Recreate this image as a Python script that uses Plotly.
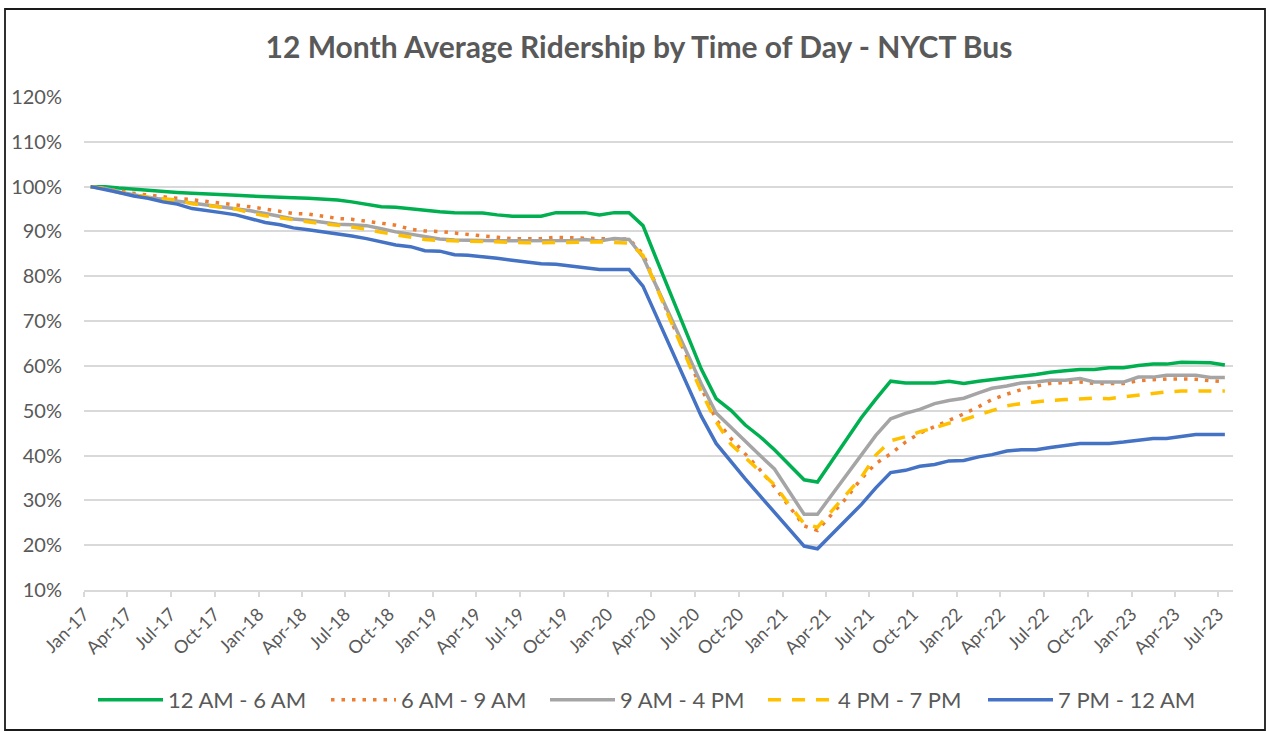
import pandas as pd
import plotly.graph_objects as go

# Monthly 12-month average ridership (% of Jan-17), Jan-17 .. Jul-23
start_month = "2017-01"
n_months = 79

am12_6 = [100.0, 100.0, 99.7, 99.4, 99.2, 99.0, 98.7, 98.5, 98.4, 98.3, 98.1, 97.9,
          97.7, 97.6, 97.5, 97.4, 97.2, 97.0, 96.6, 96.1, 95.5, 95.4, 95.0, 94.7,
          94.4, 94.2, 94.2, 94.1, 93.7, 93.4, 93.4, 93.4, 94.2, 94.2, 94.2, 93.7,
          94.2, 94.2, 91.3, 83.1, 75.1, 67.0, 59.3, 52.7, 50.1, 46.8, 44.2, 41.3,
          38.0, 34.6, 34.1, 39.0, 43.8, 48.5, 52.6, 56.6, 56.2, 56.2, 56.2, 56.6,
          56.1, 56.6, 57.0, 57.4, 57.7, 58.1, 58.6, 58.9, 59.2, 59.2, 59.6, 59.6,
          60.1, 60.4, 60.4, 60.8, 60.8, 60.7, 60.2]

am6_9 = [100.0, 99.6, 99.1, 98.5, 98.1, 97.8, 97.4, 97.1, 96.7, 96.4, 96.0, 95.5,
         95.0, 94.4, 94.0, 93.9, 93.5, 92.9, 92.7, 92.2, 91.8, 91.4, 90.5, 90.1,
         90.0, 89.6, 89.4, 89.0, 88.7, 88.4, 88.4, 88.4, 88.7, 88.6, 88.4, 88.4,
         88.4, 88.3, 85.0, 77.0, 69.5, 62.0, 55.0, 48.0, 43.8, 40.3, 36.8, 33.0,
         28.8, 24.3, 23.3, 26.9, 30.6, 34.9, 38.2, 40.4, 43.0, 45.0, 46.4, 47.7,
         49.3, 50.9, 52.5, 53.7, 54.7, 55.5, 56.1, 56.3, 56.4, 56.1, 56.1, 56.1,
         56.7, 57.0, 57.1, 57.1, 57.0, 56.7, 56.5]

am9_pm4 = [100.0, 99.6, 98.8, 98.2, 97.6, 97.2, 96.8, 96.3, 95.9, 95.5, 95.1, 94.6,
           94.0, 93.3, 92.8, 92.5, 92.0, 91.6, 91.5, 91.3, 90.6, 89.9, 89.4, 88.8,
           88.3, 88.1, 88.0, 87.9, 87.9, 87.9, 87.9, 87.9, 88.0, 88.0, 88.2, 87.9,
           88.4, 88.2, 84.3, 77.2, 70.2, 63.1, 56.0, 49.5, 46.3, 43.0, 40.0, 37.0,
           32.0, 26.9, 26.9, 31.3, 35.8, 40.2, 44.5, 48.2, 49.4, 50.3, 51.6, 52.3,
           52.8, 54.0, 55.0, 55.5, 56.2, 56.4, 56.8, 56.8, 57.2, 56.4, 56.4, 56.4,
           57.5, 57.5, 57.9, 57.9, 57.9, 57.4, 57.4]

pm4_7 = [100.0, 99.5, 98.7, 98.1, 97.7, 97.3, 97.0, 96.2, 95.7, 95.4, 95.0, 94.1,
         93.5, 93.0, 92.6, 92.2, 91.7, 91.4, 91.0, 90.5, 89.8, 89.3, 88.8, 88.2,
         88.0, 87.9, 87.8, 87.7, 87.6, 87.5, 87.5, 87.5, 87.5, 87.5, 87.6, 87.7,
         87.6, 87.4, 84.7, 76.8, 69.0, 61.5, 54.3, 47.5, 42.5, 39.5, 36.3, 33.5,
         29.0, 24.8, 24.0, 27.8, 31.5, 35.2, 40.1, 43.3, 44.2, 45.3, 46.2, 47.2,
         48.0, 49.1, 50.1, 51.1, 51.6, 52.0, 52.3, 52.5, 52.7, 52.8, 52.7, 53.1,
         53.5, 54.0, 54.2, 54.4, 54.4, 54.4, 54.4]

pm7_12 = [100.0, 99.4, 98.7, 97.9, 97.4, 96.6, 96.1, 95.1, 94.7, 94.2, 93.7, 92.9,
          92.0, 91.5, 90.8, 90.4, 90.0, 89.5, 89.0, 88.4, 87.6, 87.0, 86.6, 85.7,
          85.6, 84.8, 84.7, 84.4, 84.0, 83.6, 83.2, 82.8, 82.7, 82.3, 81.9, 81.5,
          81.5, 81.5, 77.8, 70.4, 63.2, 56.0, 48.8, 42.7, 38.6, 34.8, 31.0, 27.4,
          23.4, 19.8, 19.2, 22.5, 25.8, 29.1, 32.8, 36.2, 36.7, 37.6, 38.0, 38.8,
          38.9, 39.7, 40.2, 41.0, 41.3, 41.3, 41.8, 42.2, 42.7, 42.7, 42.7, 43.0,
          43.4, 43.8, 43.8, 44.2, 44.7, 44.7, 44.7]

series_names = ["12 AM - 6 AM", "6 AM - 9 AM", "9 AM - 4 PM", "4 PM - 7 PM", "7 PM - 12 AM"]
series_values = [am12_6, am6_9, am9_pm4, pm4_7, pm7_12]
y_ticks = [10, 20, 30, 40, 50, 60, 70, 80, 90, 100, 110, 120]
y_tick_labels = [f"{v}%" for v in y_ticks]

months = pd.date_range(start_month + "-01", periods=n_months, freq="MS") + pd.Timedelta(days=14)

colors = ["#00B050", "#ED7D31", "#A5A5A5", "#FFC000", "#4472C4"]
dashes = ["solid", "3.5px,7px", "solid", "13px,11px", "solid"]
legend_px = [93, 326, 545, 763, 983]   # left edge of each legend entry (px)

W, H = 1269, 732
ML, MR, MT, MB = 84, 36, 97, 142
pw = W - ML - MR
ph = H - MT - MB
txt = "#595959"
font = "Lato, Calibri, 'Liberation Sans', sans-serif"

fig = go.Figure()
legend_layouts = {}
for k, (name, vals, c, d, lx) in enumerate(zip(series_names, series_values, colors, dashes, legend_px)):
    lname = "legend" if k == 0 else f"legend{k + 1}"
    fig.add_trace(go.Scatter(x=months, y=vals, name=name, mode="lines", legend=lname,
                             showlegend=True,
                             line=dict(color=c, width=3.5, dash=d)))
    legend_layouts[lname] = dict(orientation="h", xref="container", yref="paper", visible=True,
                                 x=lx / W, xanchor="left", y=-(700 - (H - MB)) / ph, yanchor="middle",
                                 font=dict(size=22, color=txt, family=font), itemwidth=65,
                                 bgcolor="rgba(0,0,0,0)")

fig.update_layout(
    width=W, height=H, showlegend=True,
    margin=dict(l=ML, r=MR, t=MT, b=MB, autoexpand=False),
    paper_bgcolor="white", plot_bgcolor="white",
    font=dict(family=font, color=txt),
    title=dict(text="<b>12 Month Average Ridership by Time of Day - NYCT Bus</b>",
               x=639 / W, xanchor="center", xref="container",
               y=1 - 47 / H, yanchor="middle", yref="container",
               font=dict(size=30, color=txt, family=font)),
    shapes=[dict(type="rect", xref="paper", yref="paper",
                 x0=(5 - ML) / pw, x1=(W - 4 - ML) / pw,
                 y0=-(H - 2 - MT - ph) / ph, y1=1 + (MT - 9) / ph,
                 line=dict(color="#1a1a1a", width=1.8), fillcolor="rgba(0,0,0,0)", layer="below")],
    **legend_layouts,
)
fig.update_xaxes(type="date", range=["2017-01-01", "2023-08-01"], automargin=False,
                 tick0="2017-01-01", dtick="M3", tickformat="%b-%y", tickangle=-45,
                 showgrid=False, showline=True, linecolor="#D9D9D9", linewidth=1.5,
                 ticks="outside", ticklen=5, tickcolor="#D9D9D9", tickwidth=1.5,
                 tickfont=dict(size=18, color=txt), zeroline=False)
fig.update_yaxes(range=[10, 120], tickvals=y_ticks, ticktext=y_tick_labels, automargin=False,
                 showgrid=True, gridcolor="#D9D9D9", gridwidth=1.5,
                 zeroline=False, showline=False, ticklabelstandoff=21,
                 tickfont=dict(size=20, color=txt))

fig.write_html("out.html", config={"displayModeBar": False},
               post_script="document.body.style.margin='0';")
